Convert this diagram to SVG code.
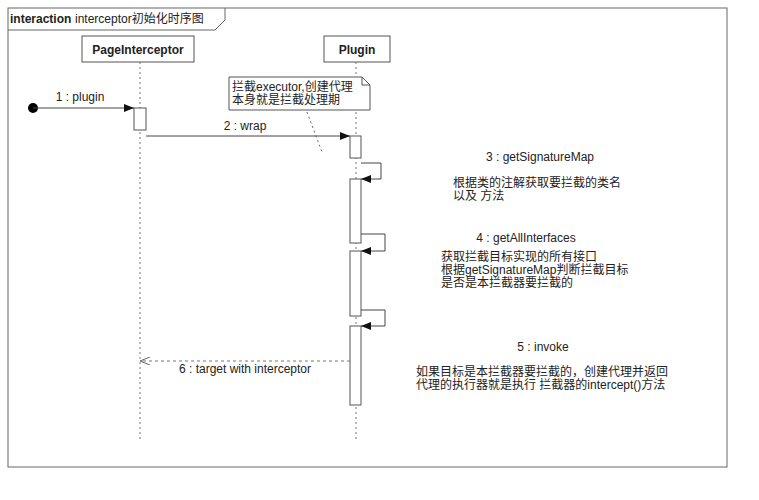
<svg xmlns="http://www.w3.org/2000/svg" width="759" height="500" viewBox="0 0 759 500">
<style>
text{font-family:"Liberation Sans","Noto Sans CJK SC",sans-serif;font-size:12px;fill:#222}
.b{font-weight:bold}
.box{fill:#fff;stroke:#555;stroke-width:1}
.life{stroke:#777;stroke-dasharray:2,3}
.msg{stroke:#444;fill:none}
</style>
<defs>
<marker id="ah" markerWidth="10" markerHeight="8" refX="10" refY="4" orient="auto" markerUnits="userSpaceOnUse"><path d="M0,0L10,4L0,8z" fill="#111"/></marker>
<marker id="oh" markerWidth="10" markerHeight="8" refX="10" refY="4" orient="auto" markerUnits="userSpaceOnUse"><path d="M0,0L10,4L0,8" fill="none" stroke="#666"/></marker>
</defs>
<rect width="759" height="500" fill="#fff"/>
<g id="frame">
<rect x="8" y="8" width="719" height="459" fill="none" stroke="#666"/>
<path d="M8,30H215L225,20V8" fill="none" stroke="#666"/>
<text x="10" y="23" class="b">interaction</text><text x="75" y="23">interceptor初始化时序图</text>
</g>
<g id="PageInterceptor">
<line x1="140" y1="62" x2="140" y2="442" class="life"/>
<rect x="82" y="36" width="112" height="26" class="box"/>
<text x="138" y="54" class="b" text-anchor="middle">PageInterceptor</text>
<rect x="134" y="108" width="12" height="22" class="box"/>
</g>
<g id="Plugin">
<line x1="356" y1="62" x2="356" y2="442" class="life"/>
<rect x="324" y="36" width="66" height="26" class="box"/>
<text x="357" y="54" class="b" text-anchor="middle">Plugin</text>
<rect x="350" y="136" width="11" height="22" class="box"/>
<rect x="350" y="179" width="11" height="64" class="box"/>
<rect x="350" y="251" width="11" height="65" class="box"/>
<rect x="350" y="326" width="11" height="79" class="box"/>
</g>
<g id="note">
<path d="M229,77H362L370,85V110H229Z" class="box"/>
<path d="M362,77V85H370" fill="none" stroke="#555"/>
<text x="232" y="91">拦截executor,创建代理</text>
<text x="232" y="104">本身就是拦截处理期</text>
</g>
<g id="connectors">
<circle cx="33" cy="108" r="5" fill="#000"/>
<line x1="33" y1="108" x2="134" y2="108" class="msg" marker-end="url(#ah)"/>
<text x="80" y="101" text-anchor="middle">1 : plugin</text>
<line x1="146" y1="136" x2="350" y2="136" class="msg" marker-end="url(#ah)"/>
<text x="245" y="130" text-anchor="middle">2 : wrap</text>
<path d="M361,163H381V179H361" class="msg" marker-end="url(#ah)"/>
<path d="M361,234H385V251H361" class="msg" marker-end="url(#ah)"/>
<path d="M361,310H385V326H361" class="msg" marker-end="url(#ah)"/>
<line x1="350" y1="361" x2="140" y2="361" stroke="#777" stroke-dasharray="3,3" marker-end="url(#oh)"/>
<text x="245" y="373" text-anchor="middle">6 : target with interceptor</text>
<line x1="307" y1="112" x2="322" y2="152" stroke="#666" stroke-dasharray="2,3"/>
</g>
<g id="labels">
<text x="540" y="161" text-anchor="middle">3 : getSignatureMap</text>
<text x="453" y="187">根据类的注解获取要拦截的类名</text>
<text x="453" y="200">以及 方法</text>
<text x="526" y="242" text-anchor="middle">4 : getAllInterfaces</text>
<text x="441" y="261">获取拦截目标实现的所有接口</text>
<text x="441" y="274">根据getSignatureMap判断拦截目标</text>
<text x="441" y="287">是否是本拦截器要拦截的</text>
<text x="543" y="351" text-anchor="middle">5 : invoke</text>
<text x="416" y="376">如果目标是本拦截器要拦截的，创建代理并返回</text>
<text x="416" y="389">代理的执行器就是执行 拦截器的intercept()方法</text>
</g>
</svg>
